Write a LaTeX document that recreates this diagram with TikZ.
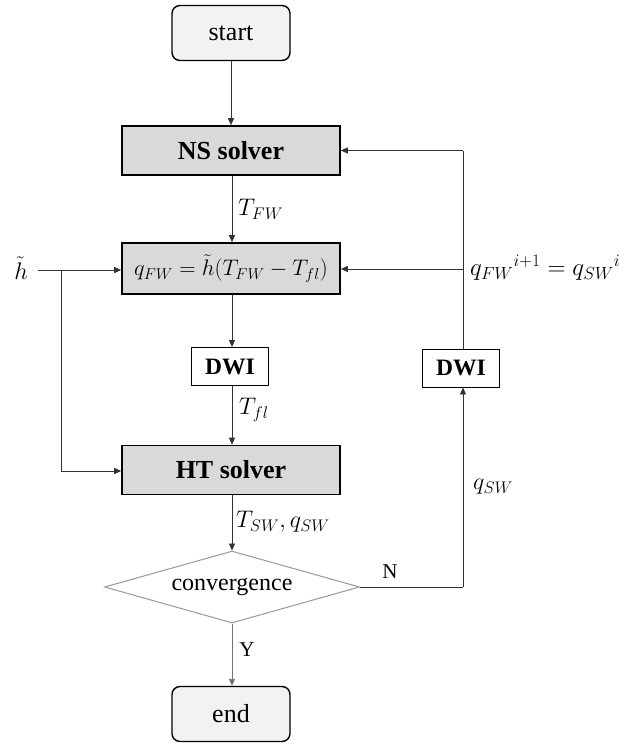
\RequirePackage{fix-cm}
\documentclass[tikz,border=0pt]{standalone}
\usepackage{fontspec}
\setmainfont{Liberation Serif}
\usetikzlibrary{arrows.meta,shapes.geometric}
\tikzset{
  conn/.style={draw=black!80, line width=0.9pt, -{Triangle[length=7pt,width=6pt]}},
  line/.style={draw=black!80, line width=0.9pt},
  term/.style={draw=black, line width=1.4pt, rounded corners=8pt, fill=black!5, minimum width=118pt, minimum height=55pt, font=\fontsize{26}{30}\selectfont},
  solver/.style={draw=black, line width=1.6pt, fill=black!15, minimum width=218pt, minimum height=49pt, font=\fontsize{26}{30}\selectfont\bfseries},
  dwi/.style={draw=black, line width=0.9pt, fill=white, minimum width=77pt, minimum height=38pt, font=\fontsize{23.5}{26}\selectfont\bfseries},
  lab/.style={font=\fontsize{24}{28}\selectfont, inner sep=0pt},
  yn/.style={font=\fontsize{21}{24}\selectfont, inner sep=0pt}
}
\begin{document}
\begin{tikzpicture}[x=1pt,y=-1pt]
\useasboundingbox (0,0) rectangle (637,744);
\node[term] (start) at (231,33) {start};
\node[solver] (ns) at (231,150.5) {NS solver};
\node[solver, font=\fontsize{22.5}{26}\selectfont, minimum height=51pt] (qfw) at (231,268.5) {$q_{FW}=\tilde h\bigl(T_{FW}-T_{fl}\bigr)$};
\node[dwi] (dwil) at (230,366.5) {DWI};
\node[solver] (ht) at (231,470) {HT solver};
\node[diamond, draw=black!40, line width=1pt, fill=white, aspect=3.55, minimum width=255pt, minimum height=72pt, inner sep=0pt] (conv) at (232,587) {};
\node[font=\fontsize{24}{28}\selectfont] at (conv.center) {convergence};
\node[term] (end) at (231,714) {end};
\node[dwi] (dwir) at (461,368) {DWI};

\node[lab, anchor=east] (h) at (28,268) {$\tilde h$};
\coordinate (hs) at (38,270);
\coordinate (br) at (61,270);
\coordinate (bl) at (61,471);
\coordinate (rtop) at (463,150.5);
\coordinate (rmid) at (463,269);
\coordinate (rbot) at (463,587);

\draw[conn] (start) -- (start|-ns.north);
\draw[conn] (ns.south-|232,0) -- (232,0|-qfw.north);
\draw[conn] (qfw.south-|232,0) -- (232,0|-dwil.north);
\draw[conn] (dwil.south-|232,0) -- (232,0|-ht.north);
\draw[conn] (ht.south-|232,0) -- (conv.north);
\draw[conn, draw=black!55] (conv.south) -- (end.north-|232,0);
\draw[conn] (hs) -- (qfw.west|-hs);
\draw[conn] (br) -- (bl) -- (ht.west|-bl);
\draw[line] (conv.east) -- (rbot);
\draw[conn] (rbot) -- (dwir.south-|rbot);
\draw[line] (dwir.north-|rtop) -- (rtop);
\draw[conn] (rtop) -- (ns.east);
\draw[conn] (rmid) -- (qfw.east|-rmid);

\node[lab, anchor=west] at (238,209) {$T_{FW}$};
\node[lab, anchor=west] at (239,410) {$T_{fl}$};
\node[lab, anchor=west] at (236,522) {$T_{SW},q_{SW}$};
\node[lab, anchor=west] at (473,487) {$q_{SW}$};
\node[lab, anchor=west, font=\fontsize{25}{28}\selectfont] at (470,268) {$q_{FW}{}^{i+1}=q_{SW}{}^{i}$};
\node[yn] at (390,572) {N};
\node[yn] at (247,650) {Y};
\end{tikzpicture}
\end{document}
